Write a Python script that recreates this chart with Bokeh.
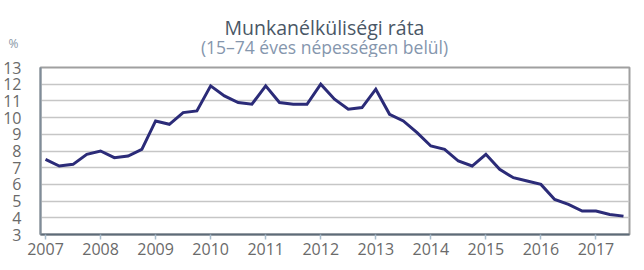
from bokeh.plotting import figure
from bokeh.models import FixedTicker, Range1d
from bokeh.layouts import column
from bokeh.core.properties import value
from bokeh.embed import file_html
from bokeh.resources import INLINE

# Data: quarterly unemployment rate (%), 2007 Q1 - 2017 Q3
years = list(range(2007, 2018))
quarters = [(y, q) for y in years for q in range(1, 5)][:43]
rate = [
    7.5, 7.1, 7.2, 7.8,      # 2007
    8.0, 7.6, 7.7, 8.1,      # 2008
    9.8, 9.6, 10.3, 10.4,    # 2009
    11.9, 11.3, 10.9, 10.8,  # 2010
    11.9, 10.9, 10.8, 10.8,  # 2011
    12.0, 11.1, 10.5, 10.6,  # 2012
    11.7, 10.2, 9.8, 9.1,    # 2013
    8.3, 8.1, 7.4, 7.1,      # 2014
    7.8, 6.9, 6.4, 6.2,      # 2015
    6.0, 5.1, 4.8, 4.4,      # 2016
    4.4, 4.2, 4.1,           # 2017
]
y_ticks = list(range(3, 14))
title_text = "Munkanélküliségi ráta"
subtitle_text = "(15–74 éves népességen belül)"
unit_text = "%"

x = [y + (q - 1) / 4 for (y, q) in quarters]

FONT = "Open Sans"
HEAD_H = 57
LEFT, RIGHT_PAD = 40, 15
FRAME_RIGHT = 644 - RIGHT_PAD

# ---- heading strip: canvas-pixel coordinates (y downward) ----
head = figure(width=644, height=HEAD_H, output_backend="svg", toolbar_location=None,
              x_range=Range1d(LEFT, FRAME_RIGHT), y_range=Range1d(HEAD_H, 0),
              x_axis_location=None, y_axis_location="left",
              min_border_left=LEFT, min_border_right=RIGHT_PAD,
              min_border_top=0, min_border_bottom=0, outline_line_color=None,
              background_fill_color="white", border_fill_color="white")
head.grid.visible = False
# unit "%" shown as the single label of the heading's left axis
head.yaxis.ticker = FixedTicker(ticks=[42.5])
head.yaxis.major_label_overrides = {42.5: unit_text}
head.yaxis.axis_line_color = None
head.yaxis.major_tick_line_color = None
head.yaxis.minor_tick_line_color = None
head.yaxis.major_tick_out = 0
head.yaxis.major_tick_in = 0
head.yaxis.major_label_standoff = 22
head.yaxis.major_label_text_font = FONT
head.yaxis.major_label_text_font_size = "12px"
head.yaxis.major_label_text_color = "#8a98a6"

head.text(x=[324], y=[26.5], text=[title_text], text_align="center",
          text_baseline="alphabetic", text_font=value(FONT), text_font_size="19.5px",
          text_color="#4a5766")
head.text(x=[324], y=[46], text=[subtitle_text], text_align="center",
          text_baseline="alphabetic", text_font=value(FONT), text_font_size="17.5px",
          text_color="#8596ad")

# ---- main chart ----
p = figure(width=644, height=270 - HEAD_H, output_backend="svg", toolbar_location=None,
           x_range=Range1d(2006.909, 2017.609), y_range=Range1d(3, 13),
           min_border_left=LEFT, min_border_right=RIGHT_PAD, min_border_top=67 - HEAD_H,
           min_border_bottom=36, background_fill_color="white",
           border_fill_color="white")

p.line(x, rate, line_color="#2b2b78", line_width=3, line_join="miter")

p.xaxis.ticker = FixedTicker(ticks=years)
p.xaxis.minor_tick_line_color = None
p.xaxis.major_tick_out = 5
p.xaxis.major_tick_in = 0
p.xaxis.major_tick_line_color = "#a9bccb"
p.xaxis.major_tick_line_width = 1.5
p.xaxis.axis_line_color = "#5d6b78"
p.xaxis.axis_line_width = 2
p.xaxis.major_label_standoff = 3
p.xaxis.major_label_text_font = FONT
p.xaxis.major_label_text_font_size = "16px"
p.xaxis.major_label_text_color = "#6a6a6a"

p.yaxis.ticker = FixedTicker(ticks=y_ticks)
p.yaxis.minor_tick_line_color = None
p.yaxis.major_tick_line_color = None
p.yaxis.axis_line_color = "#7f8c99"
p.yaxis.axis_line_width = 2
p.yaxis.major_label_standoff = 13
p.yaxis.major_label_text_font = FONT
p.yaxis.major_label_text_font_size = "16px"
p.yaxis.major_label_text_color = "#6a6a6a"

p.xgrid.grid_line_color = None
p.ygrid.ticker = FixedTicker(ticks=y_ticks)
p.ygrid.grid_line_color = "#c6c6c6"
p.ygrid.grid_line_width = 1.5

p.outline_line_color = "#a0a0a0"
p.outline_line_width = 2

layout = column(head, p, spacing=0)
open("out.html", "w").write(file_html(layout, INLINE))
